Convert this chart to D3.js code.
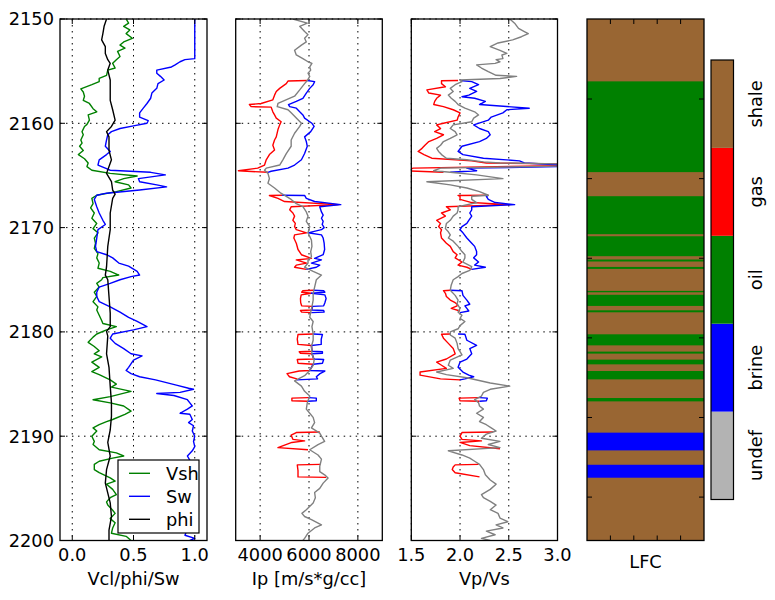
<html>
<head>
<script src="https://d3js.org/d3.v7.min.js"></script>
<style>
body { margin: 0; background: #fff; }
svg { font-family: "DejaVu Sans", sans-serif; }
.grid { stroke: #000; stroke-width: 1; stroke-dasharray: 1.5,4.5; fill: none; }
.curve { fill: none; stroke-width: 1.4; stroke-linejoin: round; }
.frame { fill: none; stroke: #000; stroke-width: 1.3; }
.tk { stroke: #000; stroke-width: 1; }
.lbl { font-size: 17.8px; fill: #000; }
</style>
</head>
<body>
<div id="root"></div>
<script>
/* ---- datos: [profundidad, valor] ---- */
var vsh = [[2150.0,0.44],[2150.4,0.46],[2150.7,0.42],[2151.05,0.47],[2151.4,0.44],[2151.85,0.49],[2152.2,0.42],[2152.5,0.39],[2152.8,0.43],[2153.1,0.37],[2153.6,0.39],[2153.9,0.36],[2154.25,0.33],[2154.7,0.35],[2154.9,0.29],[2155.4,0.28],[2155.7,0.22],[2156.0,0.22],[2156.3,0.16],[2156.7,0.07],[2157.0,0.09],[2157.4,0.10],[2157.8,0.09],[2158.1,0.14],[2158.6,0.17],[2158.9,0.20],[2159.2,0.13],[2159.7,0.14],[2160.1,0.12],[2160.3,0.10],[2160.8,0.08],[2161.1,0.09],[2161.6,0.07],[2161.9,0.08],[2162.2,0.06],[2162.6,0.09],[2163.0,0.05],[2163.4,0.10],[2163.8,0.13],[2164.15,0.12],[2164.5,0.16],[2164.8,0.31],[2165.05,0.53],[2165.3,0.42],[2165.6,0.35],[2165.9,0.46],[2166.2,0.48],[2166.55,0.36],[2166.9,0.20],[2167.2,0.16],[2167.7,0.17],[2168.1,0.15],[2168.6,0.18],[2169.1,0.16],[2169.6,0.20],[2170.1,0.17],[2170.5,0.21],[2171.0,0.18],[2171.5,0.19],[2172.0,0.18],[2172.5,0.21],[2172.9,0.20],[2173.4,0.22],[2173.9,0.21],[2174.2,0.31],[2174.55,0.38],[2174.8,0.25],[2175.0,0.24],[2175.35,0.20],[2175.7,0.22],[2176.2,0.18],[2176.6,0.20],[2177.1,0.17],[2177.6,0.21],[2177.9,0.20],[2178.4,0.22],[2178.9,0.24],[2179.2,0.25],[2179.5,0.36],[2179.8,0.28],[2180.2,0.20],[2180.5,0.17],[2181.0,0.13],[2181.4,0.18],[2181.8,0.22],[2182.1,0.18],[2182.4,0.24],[2182.9,0.16],[2183.4,0.22],[2183.8,0.16],[2184.1,0.22],[2184.6,0.31],[2185.0,0.36],[2185.3,0.32],[2185.7,0.48],[2186.2,0.31],[2186.5,0.17],[2186.8,0.31],[2187.1,0.42],[2187.6,0.48],[2187.9,0.43],[2188.4,0.33],[2188.6,0.28],[2188.9,0.22],[2189.2,0.17],[2189.5,0.20],[2190.0,0.16],[2190.5,0.18],[2190.8,0.17],[2191.3,0.22],[2191.6,0.36],[2191.9,0.42],[2192.1,0.33],[2192.4,0.22],[2192.7,0.18],[2193.2,0.18],[2193.5,0.22],[2194.0,0.31],[2194.3,0.35],[2194.6,0.28],[2195.1,0.33],[2195.6,0.36],[2195.9,0.31],[2196.3,0.28],[2196.6,0.29],[2197.1,0.33],[2197.4,0.35],[2197.9,0.31],[2198.3,0.35],[2198.8,0.33],[2199.3,0.32],[2199.6,0.44],[2200,0.48]];

var sw = [[2150,1.0],[2153.8,1.0],[2153.9,0.92],[2154.1,0.88],[2154.4,0.84],[2154.6,0.81],[2154.9,0.69],[2155.2,0.69],[2155.5,0.72],[2155.85,0.75],[2156.2,0.70],[2156.65,0.69],[2157.1,0.65],[2157.6,0.64],[2158.1,0.61],[2158.55,0.58],[2159.0,0.55],[2159.4,0.55],[2159.75,0.62],[2160.0,0.61],[2160.25,0.50],[2160.5,0.39],[2160.8,0.32],[2161.1,0.29],[2161.6,0.28],[2162.2,0.27],[2162.7,0.31],[2163.0,0.28],[2163.5,0.22],[2164.0,0.21],[2164.3,0.27],[2164.5,0.31],[2164.7,0.64],[2164.95,0.76],[2165.3,0.54],[2165.6,0.55],[2165.9,0.69],[2166.1,0.77],[2166.4,0.55],[2166.7,0.28],[2166.9,0.20],[2167.3,0.18],[2168.0,0.20],[2168.6,0.22],[2169.3,0.25],[2169.7,0.27],[2170.2,0.21],[2171.0,0.20],[2171.8,0.19],[2172.3,0.20],[2172.6,0.28],[2172.9,0.33],[2173.4,0.38],[2173.7,0.46],[2174.2,0.53],[2174.55,0.55],[2174.7,0.48],[2175.0,0.39],[2175.35,0.31],[2175.7,0.22],[2176.2,0.20],[2176.6,0.20],[2177.1,0.22],[2177.6,0.31],[2178.1,0.39],[2178.6,0.46],[2179.0,0.53],[2179.5,0.61],[2179.8,0.50],[2180.2,0.33],[2180.6,0.31],[2181.1,0.35],[2181.6,0.42],[2182.1,0.48],[2182.3,0.57],[2182.7,0.50],[2183.4,0.46],[2183.7,0.44],[2184.0,0.48],[2184.3,0.55],[2184.6,0.68],[2185.1,0.85],[2185.4,0.95],[2185.5,0.99],[2185.8,0.88],[2185.9,0.69],[2186.1,0.83],[2186.5,0.94],[2186.8,0.96],[2187.1,0.98],[2187.4,0.94],[2187.8,0.88],[2187.9,0.96],[2188.4,0.98],[2188.7,0.95],[2189.0,0.99],[2189.5,0.98],[2190.0,1.0],[2190.5,0.99],[2191.0,1.0],[2191.4,0.98],[2191.9,0.94],[2192.5,0.97],[2194,0.98],[2196,0.99],[2198,0.97],[2199.5,0.92],[2199.8,1.0],[2200,0.96]];

var phi = [[2150,0.28],[2150.7,0.26],[2151.4,0.25],[2152.0,0.24],[2152.65,0.27],[2153.3,0.27],[2153.9,0.29],[2154.25,0.31],[2154.9,0.29],[2155.85,0.31],[2156.8,0.31],[2157.8,0.31],[2158.7,0.33],[2159.7,0.35],[2160.3,0.32],[2160.8,0.28],[2161.3,0.30],[2162.6,0.30],[2163.5,0.32],[2164.8,0.28],[2165.6,0.32],[2166.4,0.33],[2166.8,0.35],[2167.2,0.33],[2168.6,0.31],[2170.2,0.31],[2171.8,0.29],[2173.75,0.28],[2174.55,0.27],[2175.0,0.29],[2176.6,0.30],[2178.2,0.31],[2179.5,0.31],[2179.95,0.28],[2180.4,0.29],[2182.1,0.28],[2183.4,0.30],[2185.2,0.31],[2186.8,0.32],[2188.1,0.32],[2189.4,0.31],[2190.6,0.29],[2191.9,0.31],[2193.2,0.28],[2194.5,0.27],[2196.4,0.31],[2197.7,0.32],[2199.0,0.30],[2200,0.30]];

var ipGray = [[2150,5340],[2150.4,5930],[2150.7,5620],[2151.2,5820],[2151.5,5960],[2151.85,5820],[2152.2,5890],[2152.5,5690],[2153.0,5410],[2153.45,5480],[2153.8,5750],[2154.1,5960],[2154.25,6120],[2154.6,6030],[2154.9,6070],[2155.2,5960],[2155.5,6030],[2155.9,5930],[2156.2,5820],[2156.8,5620],[2157.4,5410],[2158.1,4730],[2158.4,4700],[2158.7,5140],[2159.0,5270],[2159.5,5480],[2160.0,5690],[2160.3,5620],[2160.95,5410],[2161.6,5270],[2162.2,5270],[2162.9,5070],[2163.5,4930],[2164.0,4800],[2164.3,4250],[2164.5,4180],[2164.8,4320],[2165.3,4380],[2165.75,4320],[2166.2,4590],[2166.7,4850],[2167.0,5070],[2167.3,5270],[2167.7,5480],[2168.0,5750],[2168.5,5890],[2168.9,5960],[2169.4,5890],[2169.9,6030],[2170.5,5960],[2171.2,6100],[2171.8,6120],[2172.3,6070],[2172.8,6100],[2173.1,5960],[2173.4,5960],[2173.8,5820],[2174.2,6170],[2174.55,6510],[2175.0,6300],[2175.7,6230],[2176.3,6170],[2176.95,6170],[2177.6,6120],[2178.1,6070],[2178.6,6030],[2179.0,6170],[2179.5,6120],[2180.2,6170],[2180.8,6170],[2181.4,6100],[2182.1,6120],[2182.7,6210],[2183.2,6170],[2183.7,6030],[2184.2,5820],[2184.7,5410],[2185.2,5690],[2185.7,5820],[2186.15,6030],[2186.8,5930],[2187.4,5890],[2187.8,6030],[2188.2,6170],[2188.7,6230],[2189.2,6100],[2189.7,6440],[2190.0,6510],[2190.5,6640],[2190.8,6370],[2191.3,6030],[2191.8,6370],[2192.2,6510],[2192.9,6440],[2193.4,6440],[2193.7,6640],[2194.0,6780],[2194.5,6580],[2195.0,6440],[2195.4,6230],[2195.9,6260],[2196.4,6170],[2197.05,5890],[2197.4,5710],[2197.7,5820],[2198.0,6100],[2198.5,6510],[2198.8,6230],[2199.3,5960],[2199.8,5820],[2200,5750]];

var ipGas = [
  [[2155.9,5930],[2155.95,5140],[2156.2,5070],[2156.65,4800],[2156.95,4660],[2157.3,4590],[2157.75,4520],[2158.1,4040],[2158.2,3560],[2158.4,3630],[2158.45,4450],[2158.9,4520],[2159.2,4590],[2159.5,4660],[2159.85,4860],[2160.15,4800],[2160.6,4730],[2161.3,4660],[2161.6,4590],[2162.1,4520],[2162.55,4590],[2163.0,4380],[2163.5,4250],[2164.0,4180],[2164.3,3900],[2164.55,3110],[2164.7,4320]],
  [[2166.9,4900],[2166.92,4380],[2167.2,4730],[2167.5,5000],[2167.8,7190],[2168.0,5270],[2168.3,5210],[2168.6,5340],[2168.9,5410],[2169.3,5340],[2169.6,5440],[2169.9,5410],[2170.2,5480],[2170.5,5900],[2170.7,5410],[2171.0,5380],[2171.5,5480],[2172.1,5550],[2172.6,5690],[2172.95,6100],[2173.1,5480],[2173.4,5900],[2173.6,5480],[2173.8,5410],[2174.0,5890]],
  [[2176.0,6170],[2176.05,5750],[2176.2,5700],[2176.3,6100],[2176.45,5680],[2176.8,5650],[2177.2,5660],[2177.5,5700],[2177.55,6150],[2177.9,6100],[2177.95,5650],[2178.1,5700],[2178.15,6100]],
  [[2180.2,6170],[2180.25,5550],[2180.7,5520],[2181.2,5550],[2181.3,6100],[2181.85,6120],[2181.9,5600],[2182.05,5650],[2182.1,6120],[2182.6,6200],[2182.65,5520],[2183.0,5550],[2183.1,6170],[2183.7,6030],[2183.75,5600],[2184.0,5100],[2184.3,5200],[2184.5,5500],[2184.6,5500]],
  [[2186.3,5980],[2186.35,5300],[2186.6,5300],[2186.65,5950]],
  [[2189.6,6440],[2189.65,5480],[2189.9,5270],[2190.3,5340],[2190.45,5820],[2190.6,5300],[2191.1,4730],[2191.3,5960]],
  [[2192.7,6460],[2192.75,5520],[2193.3,5550],[2193.9,5550],[2193.95,6700]]
];

var ipBrine = [
  [[2155.9,5930],[2156.0,6230],[2156.3,6170],[2156.65,6030],[2157.1,5890],[2157.6,5750],[2157.9,5480],[2158.2,5160],[2158.4,5210],[2158.55,5480],[2158.9,5620],[2159.2,5750],[2159.5,5820],[2160.0,6120],[2160.3,6210],[2160.8,6070],[2161.3,5820],[2161.75,5890],[2162.2,5930],[2162.9,5820],[2163.5,5690],[2164.0,5410],[2164.3,5140],[2164.6,4450],[2164.7,4320]],
  [[2166.9,4900],[2166.92,5820],[2167.2,5890],[2167.5,6230],[2167.8,7300],[2168.0,6440],[2168.5,6510],[2168.8,6580],[2169.1,6510],[2169.4,6580],[2169.7,6540],[2170.0,6620],[2170.2,6510],[2170.5,5960],[2170.7,6510],[2171.0,6580],[2171.5,6620],[2172.1,6640],[2172.6,6580],[2172.95,6230],[2173.1,6510],[2173.4,6100],[2173.6,6440],[2173.8,6300],[2174.0,5890]],
  [[2176.0,6170],[2176.05,6600],[2176.2,6650],[2176.3,6100],[2176.45,6650],[2176.8,6700],[2177.2,6650],[2177.5,6600],[2177.55,6150],[2177.9,6100],[2177.95,6600],[2178.1,6620],[2178.15,6100]],
  [[2180.2,6170],[2180.25,6550],[2180.7,6500],[2181.2,6500],[2181.3,6100],[2181.85,6120],[2181.9,6550],[2182.05,6550],[2182.1,6120],[2182.6,6200],[2182.65,6600],[2183.0,6550],[2183.1,6170],[2183.7,6030],[2183.75,6650],[2184.0,6450],[2184.3,6300],[2184.5,6350],[2184.6,5500]],
  [[2186.3,5980],[2186.35,6300],[2186.6,6300],[2186.65,5950]]
];

var vpvsGray = [[2150.0,2.51],[2150.4,2.56],[2150.9,2.60],[2151.2,2.66],[2151.4,2.70],[2151.7,2.63],[2152.0,2.54],[2152.3,2.39],[2152.65,2.31],[2153.0,2.41],[2153.3,2.48],[2153.45,2.43],[2153.8,2.44],[2153.9,2.37],[2154.1,2.41],[2154.25,2.36],[2154.4,2.17],[2154.7,2.22],[2155.05,2.29],[2155.4,2.37],[2155.5,2.58],[2155.7,2.41],[2155.85,2.0],[2156.0,2.02],[2156.3,1.95],[2156.65,1.90],[2156.95,1.93],[2157.3,1.88],[2157.6,1.91],[2157.9,1.95],[2158.2,1.98],[2158.55,2.05],[2158.9,2.15],[2159.2,2.19],[2159.5,2.14],[2159.85,2.12],[2160.15,1.93],[2160.5,1.90],[2160.8,1.95],[2161.1,1.97],[2161.45,1.90],[2161.75,1.83],[2162.1,1.80],[2162.4,1.76],[2162.7,1.78],[2163.0,1.81],[2163.35,1.86],[2163.5,2.07],[2163.7,2.24],[2163.8,2.41],[2163.9,3.05],[2164.1,3.05],[2164.3,1.80],[2164.55,1.73],[2164.7,1.90],[2164.95,2.17],[2165.3,2.44],[2165.6,1.66],[2165.9,1.90],[2166.2,2.07],[2166.55,2.20],[2166.9,2.29],[2167.0,2.12],[2167.3,2.12],[2167.6,2.17],[2168.0,1.98],[2168.3,1.98],[2168.6,1.97],[2168.9,1.93],[2169.3,1.90],[2169.6,1.86],[2170.1,1.85],[2170.4,1.88],[2170.7,1.90],[2171.0,1.88],[2171.3,1.93],[2171.8,1.98],[2172.3,2.02],[2172.6,2.05],[2172.9,2.05],[2173.3,2.03],[2173.75,2.12],[2174.1,2.10],[2174.4,2.02],[2174.7,1.98],[2175.0,1.93],[2175.5,1.91],[2176.0,1.90],[2176.5,1.95],[2176.95,1.98],[2177.3,1.97],[2177.75,2.0],[2178.1,1.98],[2178.4,2.02],[2178.7,2.0],[2179.0,2.05],[2179.4,2.0],[2179.7,1.98],[2180.0,1.90],[2180.3,1.90],[2180.6,1.95],[2181.1,1.97],[2181.6,1.98],[2181.9,2.0],[2182.2,2.02],[2182.7,1.90],[2183.2,1.88],[2183.5,1.93],[2183.85,1.76],[2184.1,1.86],[2184.4,2.07],[2184.9,2.31],[2185.2,2.51],[2185.5,2.31],[2185.8,2.24],[2186.15,2.22],[2186.5,2.15],[2186.8,2.19],[2187.1,2.20],[2187.4,2.24],[2187.8,2.17],[2188.2,2.24],[2188.6,2.20],[2188.9,2.27],[2189.2,2.32],[2189.5,2.37],[2189.8,2.27],[2190.2,2.22],[2190.5,2.41],[2190.8,2.29],[2191.1,2.41],[2191.4,1.88],[2191.8,2.02],[2192.1,2.10],[2192.4,2.15],[2192.7,2.20],[2193.2,2.24],[2193.7,2.26],[2194.2,2.31],[2194.6,2.37],[2195.1,2.31],[2195.6,2.22],[2195.9,2.24],[2196.25,2.31],[2196.6,2.37],[2197.05,2.31],[2197.4,2.39],[2197.85,2.41],[2198.2,2.49],[2198.5,2.37],[2198.8,2.44],[2199.1,2.27],[2199.45,2.36],[2199.8,2.22],[2200,2.31]];

var vpvsGas = [
  [[2155.9,1.98],[2155.92,1.81],[2156.2,1.81],[2156.5,1.85],[2156.8,1.66],[2157.1,1.68],[2157.3,1.80],[2157.6,1.76],[2157.9,1.74],[2158.2,1.73],[2158.4,1.83],[2158.7,1.93],[2159.0,2.0],[2159.4,1.98],[2159.7,1.97],[2160.0,1.83],[2160.15,1.76],[2160.5,1.80],[2160.8,1.74],[2161.1,1.83],[2161.45,1.76],[2161.75,1.68],[2162.1,1.64],[2162.4,1.61],[2162.7,1.57],[2163.0,1.63],[2163.35,1.71],[2163.6,2.12],[2163.8,2.27],[2163.9,3.05],[2164.05,3.05],[2164.3,1.52],[2164.55,1.45],[2164.7,1.83]],
  [[2166.9,2.29],[2166.92,1.98],[2167.0,2.0],[2167.3,2.0],[2167.6,2.12],[2167.8,2.5],[2168.0,1.86],[2168.3,1.90],[2168.6,1.81],[2168.9,1.85],[2169.3,1.76],[2169.6,1.80],[2169.9,1.78],[2170.2,1.81],[2170.5,1.80],[2171.0,1.81],[2171.5,1.86],[2171.8,1.90],[2172.3,1.93],[2172.6,1.97],[2172.9,1.95],[2173.3,2.02],[2173.6,1.98],[2173.8,2.07],[2174.0,2.12]],
  [[2176.0,1.90],[2176.05,1.83],[2176.3,1.85],[2176.6,1.86],[2176.95,1.90],[2177.2,1.95],[2177.35,1.97],[2177.5,1.97],[2177.75,1.91],[2178.0,2.0]],
  [[2180.2,1.90],[2180.22,1.81],[2180.6,1.83],[2181.1,1.88],[2181.6,1.93],[2182.1,1.95],[2182.6,1.86],[2182.9,1.76],[2183.2,1.81],[2183.5,1.86],[2183.85,1.59],[2184.15,1.59],[2184.5,1.80],[2184.6,2.0]],
  [[2186.3,2.2],[2186.35,1.99],[2186.6,2.0],[2186.65,2.2]],
  [[2189.6,2.34],[2189.65,2.02],[2190.0,2.0],[2190.3,2.02],[2190.45,2.22],[2190.6,2.0],[2190.9,2.10],[2191.2,2.41]],
  [[2192.7,2.19],[2192.75,1.95],[2192.95,1.93],[2193.2,1.92],[2193.5,1.95],[2193.9,2.2]]
];

var vpvsBrine = [
  [[2155.9,2.0],[2156.0,2.12],[2156.3,2.19],[2156.65,2.10],[2156.95,2.17],[2157.3,2.09],[2157.45,2.02],[2157.6,2.15],[2157.9,2.26],[2158.2,2.20],[2158.55,2.71],[2158.7,2.48],[2159.0,2.44],[2159.4,2.32],[2159.7,2.29],[2160.15,2.14],[2160.5,2.20],[2160.8,2.29],[2161.1,2.31],[2161.45,2.27],[2161.75,2.20],[2162.2,2.02],[2162.7,1.98],[2163.0,2.03],[2163.35,2.24],[2163.6,2.61],[2163.8,2.66],[2164.0,3.05],[2164.15,3.05],[2164.3,2.07],[2164.55,2.17],[2164.7,1.90]],
  [[2166.9,2.29],[2167.0,2.27],[2167.3,2.29],[2167.6,2.36],[2167.8,2.56],[2168.0,2.12],[2168.3,2.12],[2168.6,2.10],[2168.9,2.12],[2169.3,2.09],[2169.6,2.07],[2169.9,2.02],[2170.2,2.0],[2170.5,2.03],[2171.0,2.07],[2171.5,2.12],[2171.8,2.15],[2172.3,2.17],[2172.6,2.17],[2172.9,2.14],[2173.3,2.19],[2173.6,2.15],[2173.8,2.26],[2174.0,2.12]],
  [[2176.0,1.90],[2176.05,2.02],[2176.5,2.03],[2176.95,2.07],[2177.35,2.10],[2177.5,2.05],[2177.75,2.07],[2178.0,2.09],[2178.15,2.0]],
  [[2180.2,1.98],[2180.22,2.05],[2180.8,2.07],[2181.3,2.17],[2181.6,2.10],[2182.1,2.12],[2182.6,2.07],[2182.9,2.0],[2183.4,1.98],[2183.85,2.03],[2184.15,2.09],[2184.3,2.14],[2184.5,2.05],[2184.6,2.0]],
  [[2186.3,2.2],[2186.35,2.28],[2186.6,2.27],[2186.65,2.2]]
];

/* facies: tope, base, codigo (0 undef,1 brine,2 oil,3 gas,4 shale) */
var lfcTop  = [2150, 2155.98, 2166.99, 2170.83, 2173.06, 2173.77, 2176.07, 2176.44, 2177.93, 2180.23, 2181.89, 2182.66, 2183.75, 2186.34, 2189.66, 2192.74];
var lfcBase = [2200, 2164.68, 2170.63, 2172.74, 2173.25, 2173.96, 2176.20, 2177.51, 2178.12, 2181.29, 2182.08, 2183.11, 2184.55, 2186.66, 2191.36, 2193.98];
var lfcCode = [4, 2, 2, 2, 2, 2, 2, 2, 2, 2, 2, 2, 2, 2, 1, 1];

var facNames  = ["undef", "brine", "oil", "gas", "shale"];
var facColors = ["#B3B3B3", "blue", "green", "red", "#996633"];

var depthTicks = [2150, 2160, 2170, 2180, 2190, 2200];

/* ---- escalas y svg ---- */
var svg = d3.select("#root").append("svg")
  .attr("width", 775).attr("height", 600);

var y = d3.scaleLinear().domain([2150, 2200]).range([19, 540.5]);
var yTop = y.range()[0], yBot = y.range()[1];

var tracks = [
  {x0: 60, x1: 207, domain: [-0.1, 1.1], ticks: [0, 0.5, 1.0], fmt: d3.format(".1f"), label: "Vcl/phi/Sw",
   curves: [{segs: [vsh], color: "green"}, {segs: [sw], color: "blue"}, {segs: [phi], color: "black"}]},
  {x0: 235.7, x1: 382.3, domain: [3000, 9000], ticks: [4000, 6000, 8000], fmt: d3.format("d"), label: "Ip [m/s*g/cc]",
   curves: [{segs: ipGas, color: "red"}, {segs: ipBrine, color: "blue"}, {segs: [ipGray], color: "#808080"}]},
  {x0: 411.3, x1: 557.5, domain: [1.5, 3.0], ticks: [1.5, 2.0, 2.5, 3.0], fmt: d3.format(".1f"), label: "Vp/Vs",
   curves: [{segs: vpvsGas, color: "red"}, {segs: vpvsBrine, color: "blue"}, {segs: [vpvsGray], color: "#808080"}]}
];

tracks.forEach(function(t, i) {
  var x = d3.scaleLinear().domain(t.domain).range([t.x0, t.x1]);
  var g = svg.append("g");

  svg.append("clipPath").attr("id", "clip" + i)
    .append("rect").attr("x", t.x0).attr("y", yTop)
    .attr("width", t.x1 - t.x0).attr("height", yBot - yTop);

  /* grilla punteada */
  g.selectAll(".gx").data(t.ticks).enter().append("line")
    .attr("class", "grid")
    .attr("x1", d => x(d)).attr("x2", d => x(d))
    .attr("y1", yTop).attr("y2", yBot);
  g.selectAll(".gy").data(depthTicks).enter().append("line")
    .attr("class", "grid")
    .attr("x1", t.x0).attr("x2", t.x1)
    .attr("y1", d => y(d)).attr("y2", d => y(d));

  var line = d3.line().x(d => x(d[1])).y(d => y(d[0]));
  var cg = g.append("g").attr("clip-path", "url(#clip" + i + ")");
  t.curves.forEach(function(c) {
    cg.selectAll(null).data(c.segs).enter().append("path")
      .attr("class", "curve")
      .attr("d", line)
      .style("stroke", c.color);
  });

  /* marco y ticks hacia adentro */
  g.append("rect").attr("class", "frame")
    .attr("x", t.x0).attr("y", yTop).attr("width", t.x1 - t.x0).attr("height", yBot - yTop);
  t.ticks.forEach(function(v) {
    g.append("line").attr("class", "tk").attr("x1", x(v)).attr("x2", x(v)).attr("y1", yTop).attr("y2", yTop + 5);
    g.append("line").attr("class", "tk").attr("x1", x(v)).attr("x2", x(v)).attr("y1", yBot).attr("y2", yBot - 5);
  });
  depthTicks.forEach(function(v) {
    g.append("line").attr("class", "tk").attr("x1", t.x0).attr("x2", t.x0 + 5).attr("y1", y(v)).attr("y2", y(v));
    g.append("line").attr("class", "tk").attr("x1", t.x1).attr("x2", t.x1 - 5).attr("y1", y(v)).attr("y2", y(v));
  });

  g.selectAll(".xl").data(t.ticks).enter().append("text")
    .attr("class", "lbl")
    .attr("x", d => x(d)).attr("y", 561)
    .attr("text-anchor", "middle")
    .text(t.fmt);
  g.append("text").attr("class", "lbl")
    .attr("x", (t.x0 + t.x1) / 2).attr("y", 585)
    .attr("text-anchor", "middle")
    .text(t.label);
});

/* etiquetas de profundidad */
svg.selectAll(".yl").data(depthTicks).enter().append("text")
  .attr("class", "lbl")
  .attr("x", 54).attr("y", d => y(d))
  .attr("dy", "0.36em")
  .attr("text-anchor", "end")
  .text(d => d);

/* leyenda */
var leg = svg.append("g");
leg.append("rect").attr("x", 118).attr("y", 460).attr("width", 81).attr("height", 73)
  .style("fill", "#fff").style("stroke", "#000").style("stroke-width", 1.2);
[["Vsh", "green"], ["Sw", "blue"], ["phi", "black"]].forEach(function(e, k) {
  var ly = 473.3 + k * 23;
  leg.append("line").attr("x1", 129).attr("x2", 150).attr("y1", ly).attr("y2", ly)
    .style("stroke", e[1]).style("stroke-width", 1.4);
  leg.append("text").attr("class", "lbl").attr("x", 166).attr("y", ly).attr("dy", "0.36em").text(e[0]);
});

/* track de facies */
var lx0 = 587, lx1 = 704;
var lfc = svg.append("g");
lfc.selectAll("rect.f").data(lfcCode).enter().append("rect")
  .attr("x", lx0).attr("width", lx1 - lx0)
  .attr("y", (d, i) => y(lfcTop[i]))
  .attr("height", (d, i) => y(lfcBase[i]) - y(lfcTop[i]))
  .style("fill", d => facColors[d]);
lfc.append("rect").attr("class", "frame")
  .attr("x", lx0).attr("y", yTop).attr("width", lx1 - lx0).attr("height", yBot - yTop);

// ticks de indice de muestra (imshow)
var sy = d3.scaleLinear().domain([-0.5, 654.5]).range([yTop, yBot]);
var sx = d3.scaleLinear().domain([0, 5]).range([lx0, lx1]);
[100, 200, 300, 400, 500, 600].forEach(function(v) {
  lfc.append("line").attr("class", "tk").attr("x1", lx0).attr("x2", lx0 + 5).attr("y1", sy(v)).attr("y2", sy(v));
  lfc.append("line").attr("class", "tk").attr("x1", lx1).attr("x2", lx1 - 5).attr("y1", sy(v)).attr("y2", sy(v));
});
[1, 2, 3, 4].forEach(function(v) {
  lfc.append("line").attr("class", "tk").attr("x1", sx(v)).attr("x2", sx(v)).attr("y1", yTop).attr("y2", yTop + 5);
  lfc.append("line").attr("class", "tk").attr("x1", sx(v)).attr("x2", sx(v)).attr("y1", yBot).attr("y2", yBot - 5);
});
lfc.append("text").attr("class", "lbl")
  .attr("x", (lx0 + lx1) / 2).attr("y", 568)
  .attr("text-anchor", "middle").text("LFC");

/* barra de color */
var cb = d3.scaleBand().domain(facNames.slice().reverse()).range([60, 499.5]);
var cbar = svg.append("g");
cbar.selectAll("rect").data(facNames).enter().append("rect")
  .attr("x", 711).attr("width", 22.5)
  .attr("y", d => cb(d)).attr("height", cb.bandwidth())
  .style("fill", (d, i) => facColors[i]);
cbar.append("rect").attr("class", "frame")
  .attr("x", 711).attr("y", 60).attr("width", 22.5).attr("height", 439.5)
  .style("stroke-width", 1.2);
cbar.selectAll("text").data(facNames).enter().append("text")
  .attr("class", "lbl")
  .attr("text-anchor", "middle")
  .attr("transform", d => "translate(762," + (cb(d) + cb.bandwidth() / 2) + ") rotate(-90)")
  .text(d => d);
</script>
</body>
</html>
